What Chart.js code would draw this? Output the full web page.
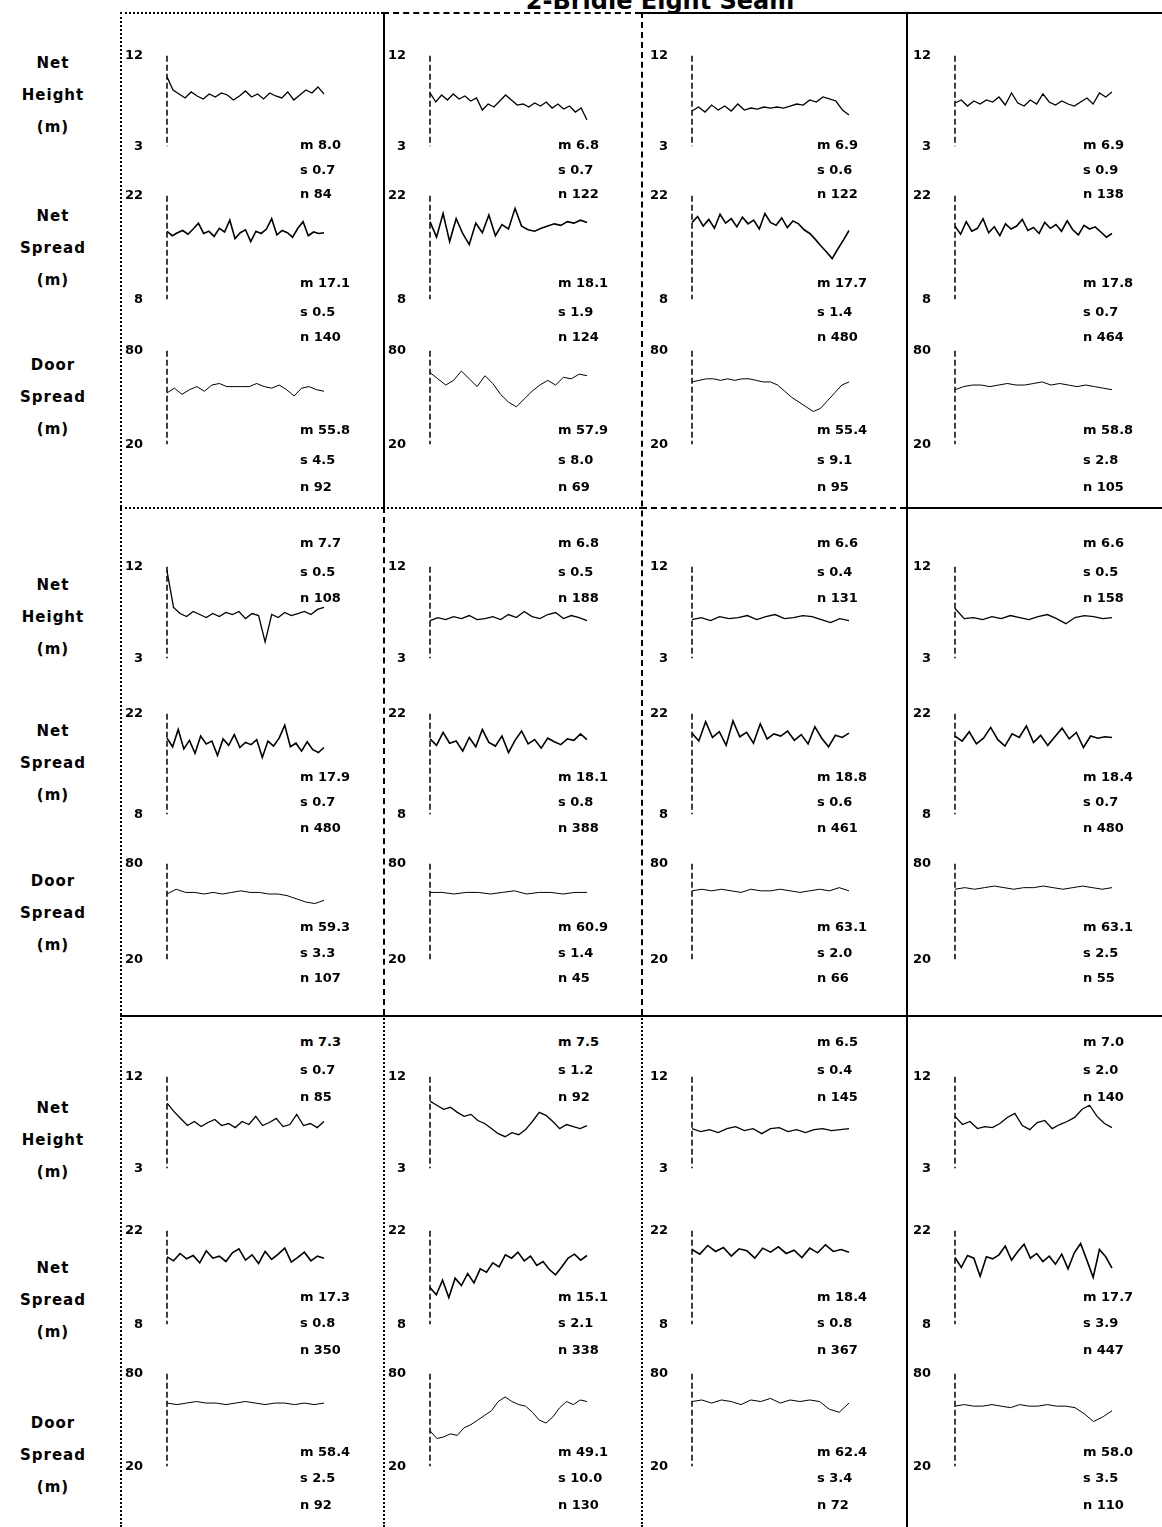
<!DOCTYPE html>
<html>
<head>
<meta charset="utf-8">
<script src="https://cdn.jsdelivr.net/npm/chart.js@4.4.0/dist/chart.umd.min.js"></script>
<style>
  body { margin: 0; background: #fff; }
  #page { position: relative; width: 1162px; height: 1527px; overflow: hidden; font-family: "DejaVu Sans", sans-serif; color: #000; }
  .lbl { position: absolute; width: 100px; text-align: center; font-weight: bold; font-size: 15px; letter-spacing: 1px; line-height: 32px; }
  .stat { position: absolute; font-weight: bold; font-size: 13px; line-height: 14px; white-space: nowrap; }
  .seg { position: absolute; border-color: #000; }
  #title { position: absolute; left: 0; width: 1320px; top: -13px; text-align: center; font-weight: bold; font-size: 24px; }
</style>
</head>
<body>
<div id="page">
  <div id="title">2-Bridle Eight Seam</div>
</div>
<script>
// axis tick labels (bottom, top)
const heightTicks = [3, 12];
const spreadTicks = [8, 22];
const doorTicks = [20, 80];

const measureLabels = [["Net", "Height", "(m)"], ["Net", "Spread", "(m)"], ["Door", "Spread", "(m)"]];

// net height series, one per column
const heightRow1 = [
  [9.9, 8.6, 8.2, 7.8, 8.4, 8.0, 7.7, 8.2, 7.9, 8.3, 8.1, 7.6, 8.0, 8.5, 7.9, 8.2, 7.7, 8.3, 8.0, 7.8, 8.4, 7.6, 8.1, 8.6, 8.3, 8.9, 8.2],
  [8.3, 7.4, 8.1, 7.6, 8.2, 7.7, 8.0, 7.5, 7.8, 6.6, 7.2, 6.9, 7.5, 8.1, 7.6, 7.1, 7.2, 6.9, 7.3, 7.0, 7.4, 6.8, 7.2, 6.7, 7.0, 6.4, 6.8, 5.6],
  [6.5, 6.9, 6.4, 7.1, 6.6, 7.0, 6.5, 7.2, 6.6, 6.8, 6.7, 6.9, 6.8, 6.9, 6.8, 7.0, 7.2, 7.1, 7.6, 7.4, 7.9, 7.7, 7.5, 6.6, 6.1],
  [7.3, 7.6, 7.0, 7.5, 7.2, 7.6, 7.4, 7.9, 7.1, 8.3, 7.3, 7.0, 7.6, 7.2, 8.2, 7.4, 7.1, 7.5, 7.2, 7.0, 7.4, 7.8, 7.2, 8.3, 7.9, 8.4]
];
const heightRow2 = [
  [11.6, 8.0, 7.4, 7.1, 7.6, 7.3, 7.0, 7.4, 7.1, 7.5, 7.3, 7.6, 6.9, 7.4, 7.2, 4.6, 7.3, 7.0, 7.5, 7.2, 7.4, 7.6, 7.3, 7.8, 8.0],
  [6.7, 7.0, 6.8, 7.1, 6.9, 7.2, 6.8, 6.9, 7.1, 6.8, 7.3, 7.0, 7.6, 7.1, 6.9, 7.3, 7.5, 6.9, 7.2, 7.0, 6.7],
  [6.8, 7.0, 6.7, 7.1, 6.9, 7.0, 7.2, 6.8, 7.1, 7.3, 6.9, 7.0, 7.2, 7.1, 6.8, 6.5, 6.9, 6.7],
  [7.9, 6.9, 7.0, 6.8, 7.1, 6.9, 7.2, 7.0, 6.8, 7.1, 7.3, 6.9, 6.4, 7.0, 7.2, 7.1, 6.9, 7.0]
];
const heightRow3 = [
  [9.4, 8.6, 7.9, 7.2, 7.6, 7.1, 7.5, 7.8, 7.2, 7.4, 7.0, 7.6, 7.3, 8.1, 7.2, 7.5, 7.9, 7.1, 7.3, 8.3, 7.2, 7.4, 7.0, 7.6],
  [9.6, 9.2, 8.8, 9.0, 8.5, 8.1, 8.3, 7.7, 7.4, 6.9, 6.4, 6.1, 6.5, 6.3, 6.8, 7.6, 8.5, 8.2, 7.6, 6.9, 7.3, 7.1, 6.9, 7.2],
  [6.9, 6.6, 6.8, 6.5, 6.9, 7.1, 6.7, 6.9, 6.4, 6.9, 7.0, 6.6, 6.8, 6.5, 6.8, 6.9, 6.7, 6.8, 6.9],
  [8.1, 7.3, 7.6, 6.9, 7.1, 7.0, 7.4, 8.0, 8.4, 7.2, 6.8, 7.5, 7.7, 6.9, 7.3, 7.6, 8.0, 8.8, 9.2, 8.1, 7.4, 7.0]
];

// net spread series
const spreadRow1 = [
  [17.2, 16.6, 17.0, 17.3, 16.8, 17.5, 18.3, 16.9, 17.2, 16.5, 17.6, 17.1, 18.7, 16.2, 17.0, 17.4, 15.8, 17.2, 16.9, 17.5, 18.9, 16.7, 17.3, 17.0, 16.4, 17.6, 18.5, 16.6, 17.1, 16.9, 17.0],
  [18.5, 16.4, 19.6, 15.8, 18.9, 16.9, 15.4, 18.3, 17.0, 19.4, 16.6, 18.1, 17.5, 20.3, 17.9, 17.4, 17.2, 17.6, 17.9, 18.2, 18.0, 18.5, 18.3, 18.7, 18.4],
  [18.4, 19.2, 17.9, 18.8, 17.6, 19.5, 18.3, 18.9, 17.8, 19.1, 18.2, 18.7, 17.5, 19.6, 18.4, 18.0, 19.0, 17.7, 18.6, 18.2, 17.4, 16.9, 16.1, 15.2, 14.4, 13.5, 14.8, 16.0, 17.3],
  [17.9, 16.8, 18.5, 17.2, 17.6, 18.9, 17.0, 17.8, 16.6, 18.2, 17.5, 17.9, 18.8, 17.3, 17.7, 16.9, 18.4, 17.6, 18.1, 17.2, 18.6, 17.4, 16.7, 18.0, 17.5, 17.8, 17.1, 16.4, 16.9]
];
const spreadRow2 = [
  [18.6, 17.4, 19.8, 17.1, 18.3, 16.5, 18.9, 17.8, 18.2, 16.2, 18.5, 17.6, 19.1, 17.3, 18.0, 17.7, 18.4, 15.9, 18.2, 17.5, 18.6, 20.4, 17.4, 17.9, 16.8, 18.1, 17.0, 16.6, 17.3],
  [18.5, 17.6, 19.4, 17.9, 18.2, 16.8, 18.7, 17.4, 19.8, 18.0, 17.5, 18.9, 16.6, 18.3, 19.6, 17.8, 18.4, 17.2, 18.6, 18.1, 17.7, 18.5, 18.3, 19.2, 18.4],
  [19.3, 18.2, 20.9, 18.7, 19.5, 17.6, 21.0, 18.8, 19.4, 17.9, 20.6, 18.5, 19.2, 18.9, 19.6, 18.3, 19.1, 17.8, 20.2, 18.6, 17.4, 19.0, 18.7, 19.3],
  [18.9, 18.2, 19.5, 17.8, 18.6, 20.1, 18.4, 17.5, 19.2, 18.7, 20.3, 18.0, 19.0, 17.6, 18.8, 20.0, 18.5, 19.4, 17.3, 18.9, 18.6, 18.8, 18.7]
];
const spreadRow3 = [
  [18.1, 17.5, 18.6, 17.8, 18.3, 17.2, 19.0, 17.9, 18.2, 17.4, 18.7, 19.3, 17.6, 18.4, 17.1, 18.9, 17.7, 18.5, 19.4, 17.3, 18.0, 18.8, 17.5, 18.2, 17.9],
  [13.5, 12.4, 14.6, 12.0, 14.9, 13.8, 15.6, 14.2, 16.3, 15.8, 17.2, 16.6, 18.4, 17.9, 18.8, 17.5, 18.2, 16.8, 17.4, 16.2, 15.4, 16.6, 17.9, 18.5, 17.6, 18.3],
  [19.2, 18.5, 19.8, 18.9, 19.5, 18.2, 19.3, 19.0, 17.9, 19.4, 18.8, 19.6, 18.6, 19.1, 18.0, 19.4, 18.7, 19.9, 18.9, 19.2, 18.8],
  [18.0, 16.5, 18.3, 17.9, 15.2, 18.1, 17.8, 18.4, 19.7, 17.6, 18.9, 20.0, 17.9, 18.6, 17.4, 18.2, 17.0, 18.5, 16.3, 18.7, 20.1, 17.6, 15.0, 19.2, 18.1, 16.4]
];

// door spread series
const doorRow1 = [
  [53, 56, 52, 55, 57, 54, 58, 59, 57, 57, 57, 57, 59, 57, 56, 58, 55, 51, 56, 57, 55, 54],
  [66, 62, 58, 61, 67, 62, 57, 64, 59, 52, 47, 44, 49, 54, 58, 61, 58, 63, 62, 65, 64],
  [60, 61, 62, 62, 61, 62, 61, 62, 62, 61, 60, 60, 58, 54, 50, 47, 44, 41, 43, 48, 53, 58, 60],
  [55, 57, 58, 58, 57, 58, 59, 58, 58, 59, 60, 58, 59, 58, 57, 58, 57, 56, 55]
];
const doorRow2 = [
  [61, 64, 62, 62, 61, 62, 61, 62, 63, 62, 62, 61, 61, 60, 58, 56, 55, 57],
  [62, 62, 61, 62, 62, 61, 62, 63, 61, 62, 62, 61, 62, 62],
  [63, 64, 63, 64, 63, 62, 64, 63, 63, 64, 63, 62, 63, 64, 63, 65, 63],
  [64, 65, 64, 65, 66, 65, 64, 65, 65, 66, 65, 64, 65, 66, 65, 64, 65]
];
const doorRow3 = [
  [61, 60, 61, 62, 61, 61, 60, 61, 62, 61, 60, 61, 61, 60, 61, 60, 61],
  [43, 38, 39, 41, 40, 45, 47, 50, 53, 56, 62, 65, 62, 60, 59, 55, 50, 48, 52, 58, 62, 60, 63, 62],
  [62, 63, 61, 63, 62, 60, 63, 62, 64, 61, 63, 62, 63, 62, 57, 55, 61],
  [59, 60, 59, 59, 60, 59, 58, 60, 59, 59, 60, 59, 59, 58, 54, 49, 52, 56]
];

// summary stats per panel: mean, sd, n
const heightStats = [
  [["8.0", "0.7", "84"], ["6.8", "0.7", "122"], ["6.9", "0.6", "122"], ["6.9", "0.9", "138"]],
  [["7.7", "0.5", "108"], ["6.8", "0.5", "188"], ["6.6", "0.4", "131"], ["6.6", "0.5", "158"]],
  [["7.3", "0.7", "85"], ["7.5", "1.2", "92"], ["6.5", "0.4", "145"], ["7.0", "2.0", "140"]]
];
const spreadStats = [
  [["17.1", "0.5", "140"], ["18.1", "1.9", "124"], ["17.7", "1.4", "480"], ["17.8", "0.7", "464"]],
  [["17.9", "0.7", "480"], ["18.1", "0.8", "388"], ["18.8", "0.6", "461"], ["18.4", "0.7", "480"]],
  [["17.3", "0.8", "350"], ["15.1", "2.1", "338"], ["18.4", "0.8", "367"], ["17.7", "3.9", "447"]]
];
const doorStats = [
  [["55.8", "4.5", "92"], ["57.9", "8.0", "69"], ["55.4", "9.1", "95"], ["58.8", "2.8", "105"]],
  [["59.3", "3.3", "107"], ["60.9", "1.4", "45"], ["63.1", "2.0", "66"], ["63.1", "2.5", "55"]],
  [["58.4", "2.5", "92"], ["49.1", "10.0", "130"], ["62.4", "3.4", "72"], ["58.0", "3.5", "110"]]
];

// ---- layout ----
const page = document.getElementById("page");
const axisX = [167, 430, 692, 955];
const statX = [300, 558, 817, 1083];
const plotW = 157;
// [top, bottom] pixel of each sub-plot per row: height, spread, door
const plotY = [
  [[42, 160], [182, 313], [337, 458]],
  [[553, 672], [700, 828], [850, 973]],
  [[1063, 1182], [1217, 1338], [1360, 1480]]
];
const statY = [
  [[145, 170, 194], [283, 312, 337], [430, 460, 487]],
  [[543, 572, 598], [777, 802, 828], [927, 953, 978]],
  [[1042, 1070, 1097], [1297, 1323, 1350], [1452, 1478, 1505]]
];
const labelY = [[95, 248, 397], [617, 763, 913], [1140, 1300, 1455]];

const rows = [
  [heightRow1, spreadRow1, doorRow1],
  [heightRow2, spreadRow2, doorRow2],
  [heightRow3, spreadRow3, doorRow3]
];
const stats = [heightStats, spreadStats, doorStats];
const ticks = [heightTicks, spreadTicks, doorTicks];
const lineWidths = [1.3, 1.6, 1];

// dashed y axis line drawn at the left edge of the plot area
const dashedAxis = {
  id: "dashedAxis",
  afterDraw(chart) {
    const { ctx, chartArea } = chart;
    ctx.save();
    ctx.strokeStyle = "#000";
    ctx.lineWidth = 1.5;
    ctx.setLineDash([6, 3]);
    ctx.beginPath();
    ctx.moveTo(chartArea.left, chartArea.top);
    ctx.lineTo(chartArea.left, chartArea.bottom);
    ctx.stroke();
    ctx.restore();
  }
};

function addDiv(cls, x, y, html) {
  const d = document.createElement("div");
  d.className = cls;
  d.style.left = x + "px";
  d.style.top = y + "px";
  d.innerHTML = html;
  page.appendChild(d);
  return d;
}

function drawPanel(series, tk, ax, top, bottom, lw) {
  const pad = 10;
  const c = document.createElement("canvas");
  c.width = 45 + plotW + 2;
  c.height = bottom - top + pad * 2;
  c.style.position = "absolute";
  c.style.left = (ax - 45) + "px";
  c.style.top = (top - pad) + "px";
  page.appendChild(c);
  new Chart(c, {
    type: "line",
    data: {
      labels: series.map((v, i) => i),
      datasets: [{ data: series, borderColor: "#000", borderWidth: lw, pointRadius: 0, tension: 0, fill: false }]
    },
    options: {
      responsive: false,
      animation: false,
      devicePixelRatio: 1,
      layout: { padding: { top: pad, bottom: pad, left: 0, right: 2 } },
      plugins: { legend: { display: false }, tooltip: { enabled: false } },
      scales: {
        x: { display: false },
        y: {
          min: tk[0],
          max: tk[1],
          afterFit: (a) => { a.width = 45; },
          afterBuildTicks: (a) => { a.ticks = [{ value: tk[0] }, { value: tk[1] }]; },
          grid: { display: false },
          border: { display: false },
          ticks: { color: "#000", padding: 16, font: { family: "DejaVu Sans", size: 13, weight: "bold" } }
        }
      }
    },
    plugins: [dashedAxis]
  });
}

for (let r = 0; r < 3; r++) {
  for (let m = 0; m < 3; m++) {
    addDiv("lbl", 3, labelY[r][m] - 48, measureLabels[m].join("<br>"));
    for (let col = 0; col < 4; col++) {
      const [top, bottom] = plotY[r][m];
      drawPanel(rows[r][m][col], ticks[m], axisX[col], top, bottom, lineWidths[m]);
      const st = stats[m][r][col];
      const sy = statY[r][m];
      addDiv("stat", statX[col], sy[0] - 7, "m " + st[0]);
      addDiv("stat", statX[col], sy[1] - 7, "s " + st[1]);
      addDiv("stat", statX[col], sy[2] - 7, "n " + st[2]);
    }
  }
}

// frame lines
function hSeg(y, x0, x1, style) {
  const d = addDiv("seg", x0, y, "");
  d.style.width = (x1 - x0) + "px";
  d.style.borderTop = "2px " + style + " #000";
}
function vSeg(x, y0, y1, style) {
  const d = addDiv("seg", x, y0, "");
  d.style.height = (y1 - y0) + "px";
  d.style.borderLeft = "2px " + style + " #000";
}
hSeg(12, 120, 383, "dotted"); hSeg(12, 383, 641, "dashed"); hSeg(12, 641, 1162, "solid");
hSeg(507, 120, 383, "dotted"); hSeg(507, 383, 641, "dotted"); hSeg(507, 641, 906, "dashed"); hSeg(507, 906, 1162, "solid");
hSeg(1015, 120, 1162, "solid");
vSeg(120, 12, 1015, "dotted"); vSeg(120, 1015, 1527, "dotted");
vSeg(383, 12, 507, "solid"); vSeg(383, 507, 1015, "dashed"); vSeg(383, 1015, 1527, "dotted");
vSeg(641, 12, 1015, "dashed"); vSeg(641, 1015, 1527, "dotted");
vSeg(906, 12, 1527, "solid");
</script>
</body>
</html>
